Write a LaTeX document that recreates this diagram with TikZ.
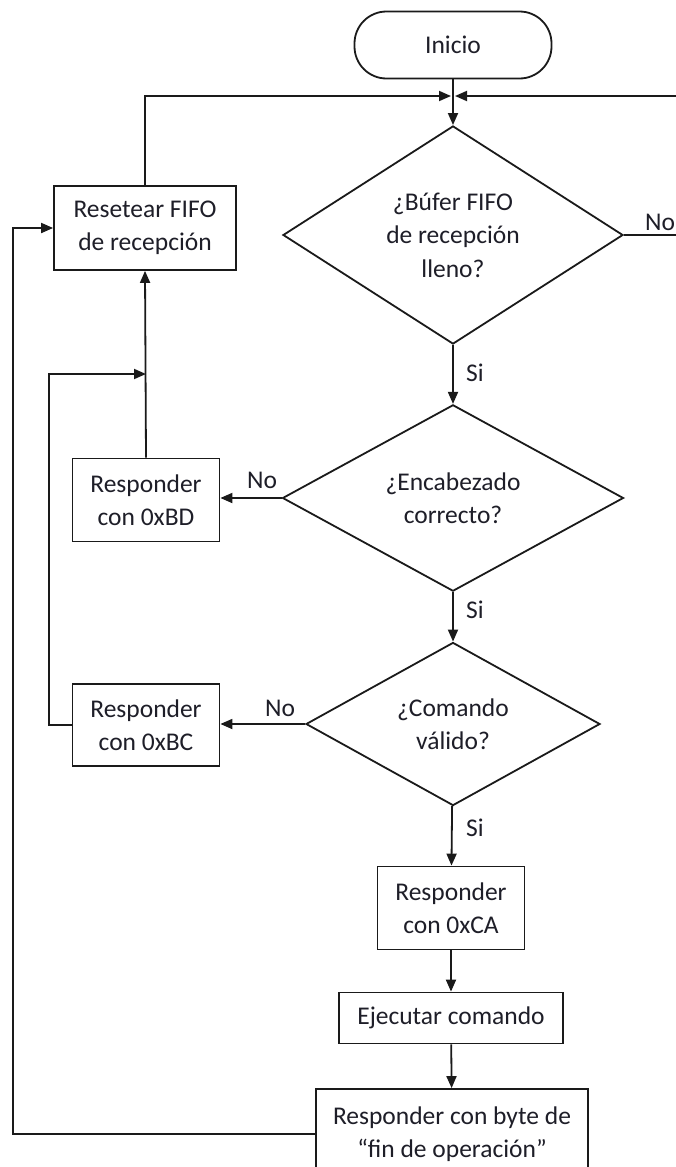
\documentclass[tikz,border=0pt]{standalone}
\usepackage{fontspec}
\setmainfont{Carlito}
\usetikzlibrary{shapes.geometric,arrows.meta}
\definecolor{ink}{HTML}{1E1E28}
\definecolor{linec}{HTML}{1A1A1A}
\tikzset{
  base/.style={draw=linec, line width=1.8pt, text=ink, align=center, inner sep=0pt,
    font=\fontsize{25.5}{33.5}\selectfont},
  procbox/.style={base, rectangle},
  termbox/.style={base, rectangle, rounded corners=32pt},
  decbox/.style={base, diamond},
  conn/.style={draw=linec, line width=1.8pt, -{Triangle[length=12pt,width=10pt]}},
  lbl/.style={text=ink, inner sep=0pt, font=\fontsize{25.5}{33.5}\selectfont}
}
\begin{document}
\begin{tikzpicture}[x=1pt,y=-1pt]
\useasboundingbox (0,0) rectangle (676,1167);
\fill[white] (0,0) rectangle (676,1167);

\node[termbox, minimum width=197pt, minimum height=67pt] (inicio) at (453,45) {Inicio};
\node[decbox, minimum width=340pt, minimum height=217pt] (d1) at (453,235) {¿Búfer FIFO\\de recepción\\lleno?};
\node[procbox, minimum width=182pt, minimum height=84pt] (reset) at (145,228) {Resetear FIFO\\de recepción};
\node[decbox, minimum width=341pt, minimum height=168pt] (d2) at (453,498) {¿Encabezado\\correcto?};
\node[procbox, minimum width=147pt, minimum height=83pt] (bd) at (146,500) {Responder\\con 0xBD};
\node[decbox, minimum width=294pt, minimum height=152pt] (d3) at (453,724) {¿Comando\\válido?};
\node[procbox, minimum width=147pt, minimum height=82pt] (bc) at (146,725) {Responder\\con 0xBC};
\node[procbox, minimum width=147pt, minimum height=83pt] (ca) at (451,908) {Responder\\con 0xCA};
\node[procbox, minimum width=224pt, minimum height=51pt] (ej) at (451,1018) {Ejecutar comando};
\node[procbox, minimum width=272pt, minimum height=90pt] (fin) at (452,1134) {Responder con byte de\\“fin de operación”};

\coordinate (J) at (453,96);
\coordinate (R) at (678,96);
\coordinate (K) at (49,374);
\coordinate (F) at (13,0);

% Start into first decision
\draw[conn] (inicio) -- (d1);
% Reset loop back to the top
\draw[conn, shorten >=2pt] (reset.north) |- (J);
% "No" branch of first decision back to the top
\draw[conn, shorten >=2pt] (d1.east) -- (d1.east -| R) |- (J);
\node[lbl, anchor=west] (no1) at (645,222) {No};

% Si branches
\draw[conn] (d1) -- (d2);
\node[lbl, anchor=west] (si1) at (466,373) {Si};
\draw[conn] (d2) -- (d3);
\node[lbl, anchor=west] (si2) at (466,610) {Si};
\draw[conn] (d3) -- (ca);
\node[lbl, anchor=west] (si3) at (466,828) {Si};

% No branches
\draw[conn] (d2.west) -- (d2.west -| bd.east);
\node[lbl] (no2) at (262,480) {No};
\draw[conn] (d3.west) -- (d3.west -| bc.east);
\node[lbl] (no3) at (280,708) {No};

% back to reset
\draw[conn] (bd.north) -- (reset.south);
\draw[conn] (bc.west) -| (K) -- (K -| bd.north);

% sequence
\draw[conn] (ca) -- (ej);
\draw[conn] (ej) -- (fin);
\draw[conn] (fin.west) -- (fin.west -| F) |- (reset.west);
\end{tikzpicture}
\end{document}
